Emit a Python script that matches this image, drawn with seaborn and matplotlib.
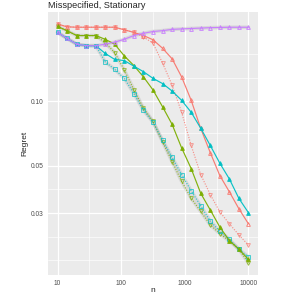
import numpy as np
import pandas as pd
import matplotlib
matplotlib.use("Agg")
import matplotlib.pyplot as plt
from matplotlib.ticker import FixedLocator, FixedFormatter, NullFormatter
import seaborn as sns

# sample sizes (log spaced)
n_vals = [10, 14, 20, 28, 40, 56, 79, 112, 158, 224, 316, 447, 631, 891,
          1259, 1778, 2512, 3548, 5012, 7079, 10000]

red_solid = [0.230, 0.223, 0.222, 0.222, 0.222, 0.222, 0.222, 0.216, 0.210, 0.203,
             0.194, 0.177, 0.158, 0.130, 0.101, 0.0746, 0.0575, 0.0449, 0.0377, 0.0314, 0.0267]
red_dotted = [0.230, 0.223, 0.222, 0.222, 0.222, 0.222, 0.222, 0.216, 0.210, 0.200,
              0.187, 0.151, 0.119, 0.0888, 0.0621, 0.0454, 0.0366, 0.0304, 0.0267, 0.0237, 0.0212]
green_solid = [0.224, 0.214, 0.203, 0.203, 0.203, 0.195, 0.185, 0.163, 0.147, 0.130,
               0.113, 0.0942, 0.078, 0.0605, 0.0484, 0.0371, 0.0310, 0.0258, 0.0223, 0.0203, 0.0182]
green_dotted = [0.224, 0.214, 0.203, 0.203, 0.203, 0.188, 0.169, 0.140, 0.1135, 0.0929,
                0.0805, 0.0646, 0.0522, 0.0422, 0.0352, 0.0305, 0.0264, 0.0240, 0.0222, 0.0203, 0.0175]
cyan_solid = [0.210, 0.197, 0.185, 0.182, 0.182, 0.1675, 0.157, 0.155, 0.146, 0.1375,
              0.128, 0.121, 0.1117, 0.101, 0.0888, 0.0748, 0.0621, 0.0513, 0.0433, 0.0351, 0.0301]
cyan_dotted = [0.210, 0.197, 0.185, 0.182, 0.182, 0.153, 0.141, 0.128, 0.1087, 0.0907,
               0.0799, 0.0657, 0.0546, 0.0454, 0.0381, 0.0324, 0.0275, 0.0247, 0.0226, 0.0203, 0.0187]
purple_solid = [0.210, 0.197, 0.185, 0.182, 0.182, 0.185, 0.189, 0.195, 0.203, 0.208,
                0.212, 0.214, 0.217, 0.218, 0.219, 0.220, 0.221, 0.2215, 0.222, 0.222, 0.222]

y_breaks = [0.03, 0.05, 0.10]
y_labels = ["0.03", "0.05", "0.10"]
x_breaks = [10, 100, 1000, 10000]
x_labels = ["10", "100", "1000", "10000"]

RED, GREEN, CYAN, PURPLE = "#F8766D", "#7CAE00", "#00BFC4", "#C77CFF"

series = [
    # name, values, color, dotted, marker, filled, ribbon
    ("red_dotted", red_dotted, RED, True, "v", False, False),
    ("green_dotted", green_dotted, GREEN, True, "v", False, True),
    ("cyan_dotted", cyan_dotted, CYAN, True, "s", False, True),
    ("red_solid", red_solid, RED, False, "^", False, False),
    ("green_solid", green_solid, GREEN, False, "^", True, False),
    ("cyan_solid", cyan_solid, CYAN, False, "^", True, False),
    ("purple_solid", purple_solid, PURPLE, False, "^", False, True),
]

rows = []
for name, vals, *_ in series:
    for n, v in zip(n_vals, vals):
        rows.append((name, n, v))
df = pd.DataFrame(rows, columns=["series", "n", "regret"])

sns.set_theme(style="darkgrid")
plt.rcParams["font.family"] = ["Liberation Sans", "DejaVu Sans"]

fig = plt.figure(figsize=(2.81, 2.94), dpi=100)
ax = fig.add_axes([48 / 281, 1 - 275 / 294, 210 / 281, 263 / 294])
ax.set_facecolor("#EBEBEB")

# faint grey bands behind some of the curves
for name, vals, color, dotted, marker, filled, ribbon in series:
    if ribbon:
        sub = df[df["series"] == name]
        sns.lineplot(data=sub, x="n", y="regret", ax=ax, color="#8C8C8C",
                     linewidth=2.6, alpha=0.2, legend=False)

for name, vals, color, dotted, marker, filled, ribbon in series:
    sub = df[df["series"] == name]
    ls = (0, (1, 1.2)) if dotted else "-"
    alpha = 0.75 if dotted else 0.95
    sns.lineplot(data=sub, x="n", y="regret", ax=ax, color=color, linestyle=ls,
                 linewidth=0.85, alpha=alpha, marker=marker, markersize=2.7,
                 markerfacecolor=color if filled else "none",
                 markeredgecolor=color, markeredgewidth=0.65, legend=False)

ax.set_xscale("log")
ax.set_yscale("log")

# ggplot-like 5% expansion in log space
lx = np.log10([min(n_vals), max(n_vals)])
ex = (lx[1] - lx[0]) * 0.05
ax.set_xlim(10 ** (lx[0] - ex), 10 ** (lx[1] + ex))
all_vals = red_solid + red_dotted + green_solid + green_dotted + cyan_solid + cyan_dotted + purple_solid
ly = np.log10([min(all_vals), max(all_vals)])
ey = (ly[1] - ly[0]) * 0.05
ax.set_ylim(10 ** (ly[0] - ey), 10 ** (ly[1] + ey))

# major breaks + minor (midpoint) grid like ggplot
lb = np.log10(y_breaks)
step = lb[1] - lb[0]
ext = np.concatenate([[lb[0] - step], lb, [lb[-1] + step]])
y_minor = 10 ** ((ext[:-1] + ext[1:]) / 2)
y_minor = np.concatenate([y_minor, [10 ** ext[0], 10 ** ext[-1]]])
xb = np.log10(x_breaks)
x_minor = 10 ** ((xb[:-1] + xb[1:]) / 2)

ax.xaxis.set_major_locator(FixedLocator(x_breaks))
ax.xaxis.set_major_formatter(FixedFormatter(x_labels))
ax.xaxis.set_minor_locator(FixedLocator(x_minor))
ax.xaxis.set_minor_formatter(NullFormatter())
ax.yaxis.set_major_locator(FixedLocator(y_breaks))
ax.yaxis.set_major_formatter(FixedFormatter(y_labels))
ax.yaxis.set_minor_locator(FixedLocator(y_minor))
ax.yaxis.set_minor_formatter(NullFormatter())

ax.grid(which="major", color="white", linewidth=0.9)
ax.grid(which="minor", color="white", linewidth=0.45)
ax.set_axisbelow(True)
for s in ax.spines.values():
    s.set_visible(False)

ax.tick_params(which="major", length=2.2, width=0.6, color="#333333",
               labelsize=4.8, labelcolor="#4D4D4D", pad=1.2)
ax.tick_params(which="minor", length=0)

ax.set_xlabel("n", fontsize=6, labelpad=0.5)
ax.set_ylabel("Regret", fontsize=6, labelpad=1.5)
ax.set_title("Misspecified, Stationary", fontsize=6.6, loc="left", pad=3)

fig.savefig("out.png", dpi=100)
